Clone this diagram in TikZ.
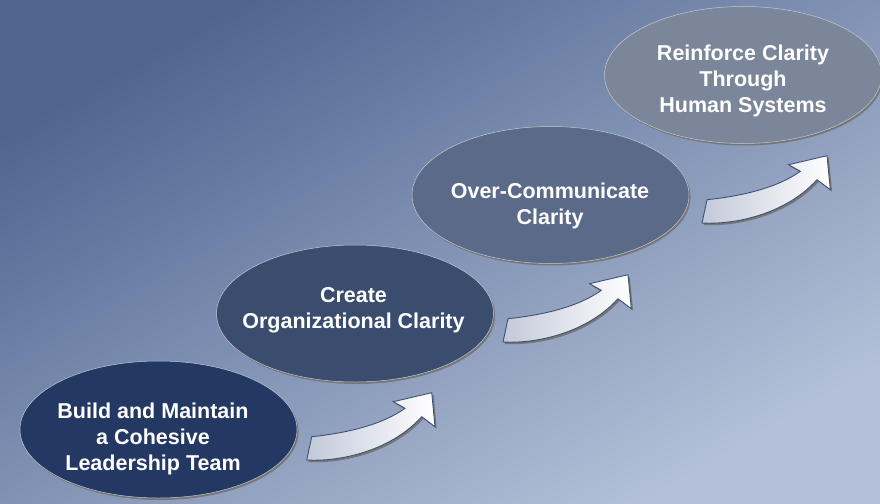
\documentclass[tikz,border=0pt]{standalone}
\usepackage{fontspec}
\setmainfont{Liberation Sans}
\usetikzlibrary{shadows,shapes.geometric}
\definecolor{bgA}{HTML}{4F6590}
\definecolor{bgM}{HTML}{7485A8}
\definecolor{bgB}{HTML}{B3C0D8}
\definecolor{eA}{HTML}{233862}
\definecolor{eB}{HTML}{3B4D6F}
\definecolor{eC}{HTML}{5B6A89}
\definecolor{eD}{HTML}{7C869A}
\definecolor{shadowc}{HTML}{6E6B60}
\definecolor{arrowline}{HTML}{3D5075}
\definecolor{arrowL}{HTML}{C2C9D8}
\begin{document}
\begin{tikzpicture}[x=1pt,y=-1pt,
  stage/.style={ellipse, minimum width=277pt, minimum height=137pt, inner sep=0pt,
    draw=white!55!eD, line width=0.5pt,
    drop shadow={shadow xshift=1.6pt, shadow yshift=-2pt, fill=shadowc, opacity=0.75}},
  stagetext/.style={text=white, font=\bfseries\fontsize{21.5}{26}\selectfont, align=center, inner sep=0pt},
  blockarrow/.pic={
    \path[draw=arrowline, line width=0.9pt, left color=arrowL, right color=white,
      drop shadow={shadow xshift=1.8pt, shadow yshift=-2pt, fill=shadowc, opacity=0.8}]
      (0,0) -- (5,-23.3) .. controls (40,-27) and (75,-35) .. (98.3,-51.7)
      -- (86.6,-58.3) -- (125,-67.3) -- (128.3,-33.3) -- (115,-43.3)
      .. controls (85,-10) and (35,2) .. (0,0) -- cycle;
  }]
\useasboundingbox (0,0) rectangle (880,503);
\fill[top color=bgA, middle color=bgM, bottom color=bgB, shading angle=30] (0,0) rectangle (880,503);

\node[stage, fill=eA] (s1) at (158.5,429.5) {};
\node[stage, fill=eB] (s2) at (355,313.5) {};
\node[stage, fill=eC] (s3) at (550.5,195) {};
\node[stage, fill=eD] (s4) at (743,75) {};

\node[stagetext] (t1) at (153,438.5) {Build and Maintain\\a Cohesive\\Leadership Team};
\node[stagetext] (t2) at (353.5,310) {Create\\Organizational Clarity};
\node[stagetext] (t3) at (550,206) {Over-Communicate\\Clarity};
\node[stagetext] (t4) at (743,80.5) {Reinforce Clarity\\Through\\Human Systems};

\pic at (306.7,460) {blockarrow};
\pic at (503,342) {blockarrow};
\pic at (702,223) {blockarrow};
\end{tikzpicture}
\end{document}
